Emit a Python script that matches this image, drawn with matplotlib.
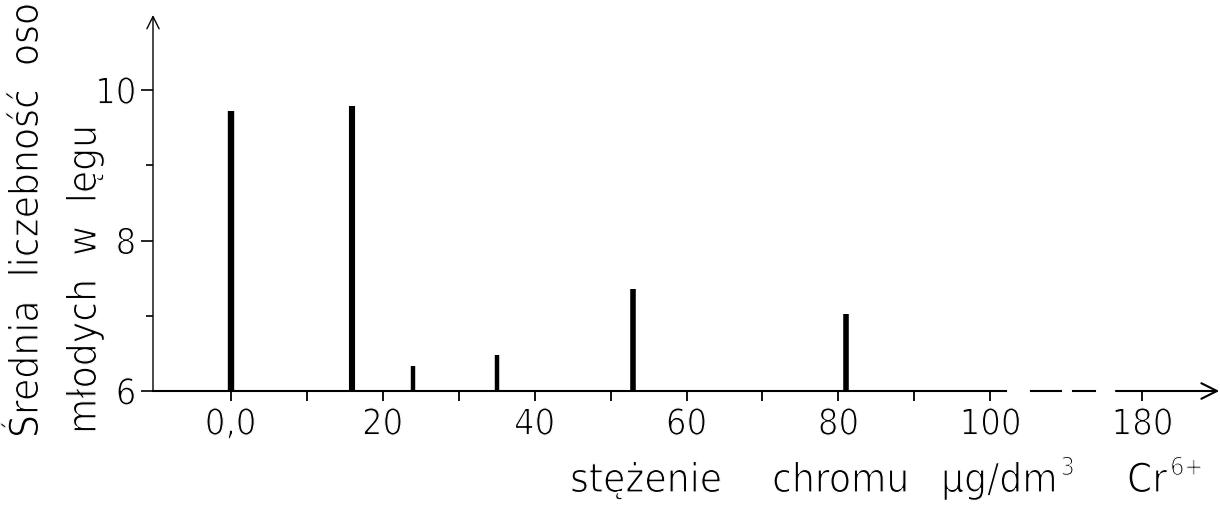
import matplotlib
matplotlib.use("Agg")
import matplotlib.pyplot as plt
import matplotlib.patheffects as pe

# Chromium concentration (µg/dm3 Cr6+) and mean number of young per brood
concentration = [0, 16, 24, 35, 53, 81]
mean_young = [9.73, 9.79, 6.33, 6.48, 7.36, 7.03]
bar_widths = [4.6, 4.4, 3.2, 3.2, 4.0, 4.0]

# Tick labels; the last one sits beyond the axis break
xtick_pos = [0, 20, 40, 60, 80, 100, 120]
xtick_labels = ["0,0", "20", "40", "60", "80", "100", "180"]
xminor_pos = [10, 30, 50, 70, 90]
ytick_pos = [6, 8, 10]
ytick_labels = ["6", "8", "10"]
yminor_pos = [7, 9]

# Axis title pieces: (word, superscript)
xtitle_words = [("stężenie", ""), ("chromu", ""), ("µg/dm", "3"), ("Cr", "6+")]
ytitle_lines = ["Średnia  liczebność  osobników", "młodych  w  lęgu"]

FONT = dict(family="DejaVu Sans", stretch="condensed", weight="normal")
# thin lettering: trim the glyph outlines with a white stroke drawn on top
THIN = [pe.Normal(), pe.Stroke(linewidth=0.9, foreground="white")]

W, H = 1220, 511
fig = plt.figure(figsize=(W / 100, H / 100), dpi=100)
ax_left, ax_bottom, ax_top = 153, 391, 15
ax = fig.add_axes([ax_left / W, 1 - ax_bottom / H, (W - ax_left) / W, (ax_bottom - ax_top) / H])

xmin, xmax = -10.2, 130.2
ymin, ymax = 6.0, 11.0
ax.set_xlim(xmin, xmax)
ax.set_ylim(ymin, ymax)
for s in ax.spines.values():
    s.set_visible(False)

# Bars as thick vertical strokes
for x, v, lw in zip(concentration, mean_young, bar_widths):
    ax.vlines(x, ymin, v, colors="black", linewidth=lw, capstyle="butt")

# Horizontal axis with a break before the last value
ax.plot([xmin, 102.0], [ymin, ymin], color="black", lw=1.5, clip_on=False)
ax.plot([105.3, 109.3], [ymin, ymin], color="black", lw=1.5, clip_on=False)
ax.plot([110.9, 113.8], [ymin, ymin], color="black", lw=1.5, clip_on=False)
ax.annotate("", xy=(xmax - 0.1, ymin), xytext=(116.5, ymin),
            arrowprops=dict(arrowstyle="->", lw=1.5, color="black",
                            mutation_scale=28, shrinkA=0, shrinkB=0),
            annotation_clip=False)

# Vertical axis with arrow
ax.annotate("", xy=(xmin, ymax), xytext=(xmin, ymin),
            arrowprops=dict(arrowstyle="->", lw=1.0, color="black",
                            mutation_scale=22, shrinkA=0, shrinkB=0),
            annotation_clip=False)

# Ticks
ax.set_xticks(xtick_pos)
ax.set_xticklabels(xtick_labels)
ax.set_xticks(xminor_pos, minor=True)
ax.set_yticks(ytick_pos)
ax.set_yticklabels(ytick_labels)
ax.set_yticks(yminor_pos, minor=True)
ax.tick_params(axis="x", which="both", direction="out", length=7, width=1.3,
               labelsize=26, pad=5, colors="black")
ax.tick_params(axis="y", which="major", direction="out", length=9, width=1.2,
               labelsize=26, pad=3, colors="black")
ax.tick_params(axis="y", which="minor", direction="out", length=5, width=1.2)
for lbl in ax.get_xticklabels() + ax.get_yticklabels():
    lbl.set_fontproperties(dict(FONT, size=26))
    lbl.set_path_effects(THIN)

# Horizontal axis title, word by word with wide lettering gaps;
# superscripts are set just after their word, raised and smaller
renderer = fig.canvas.get_renderer()
xtitle_left = [570, 772, 941, 1127]
baseline = 492
for (word, sup), left in zip(xtitle_words, xtitle_left):
    t = fig.text(left / W, 1 - baseline / H, word, ha="left", va="baseline",
                 fontsize=29, path_effects=THIN, **FONT)
    if sup:
        right = t.get_window_extent(renderer).x1
        fig.text((right + 3) / W, 1 - (baseline - 17) / H, sup, ha="left",
                 va="baseline", fontsize=18, path_effects=THIN, **FONT)

# Vertical axis title in two lines
for line, xc, ystart in zip(ytitle_lines, [27, 85], [438, 434]):
    fig.text(xc / W, 1 - ystart / H, line, rotation=90, ha="center",
             va="bottom", fontsize=29, path_effects=THIN, **FONT)

fig.savefig("out.png", dpi=100)
